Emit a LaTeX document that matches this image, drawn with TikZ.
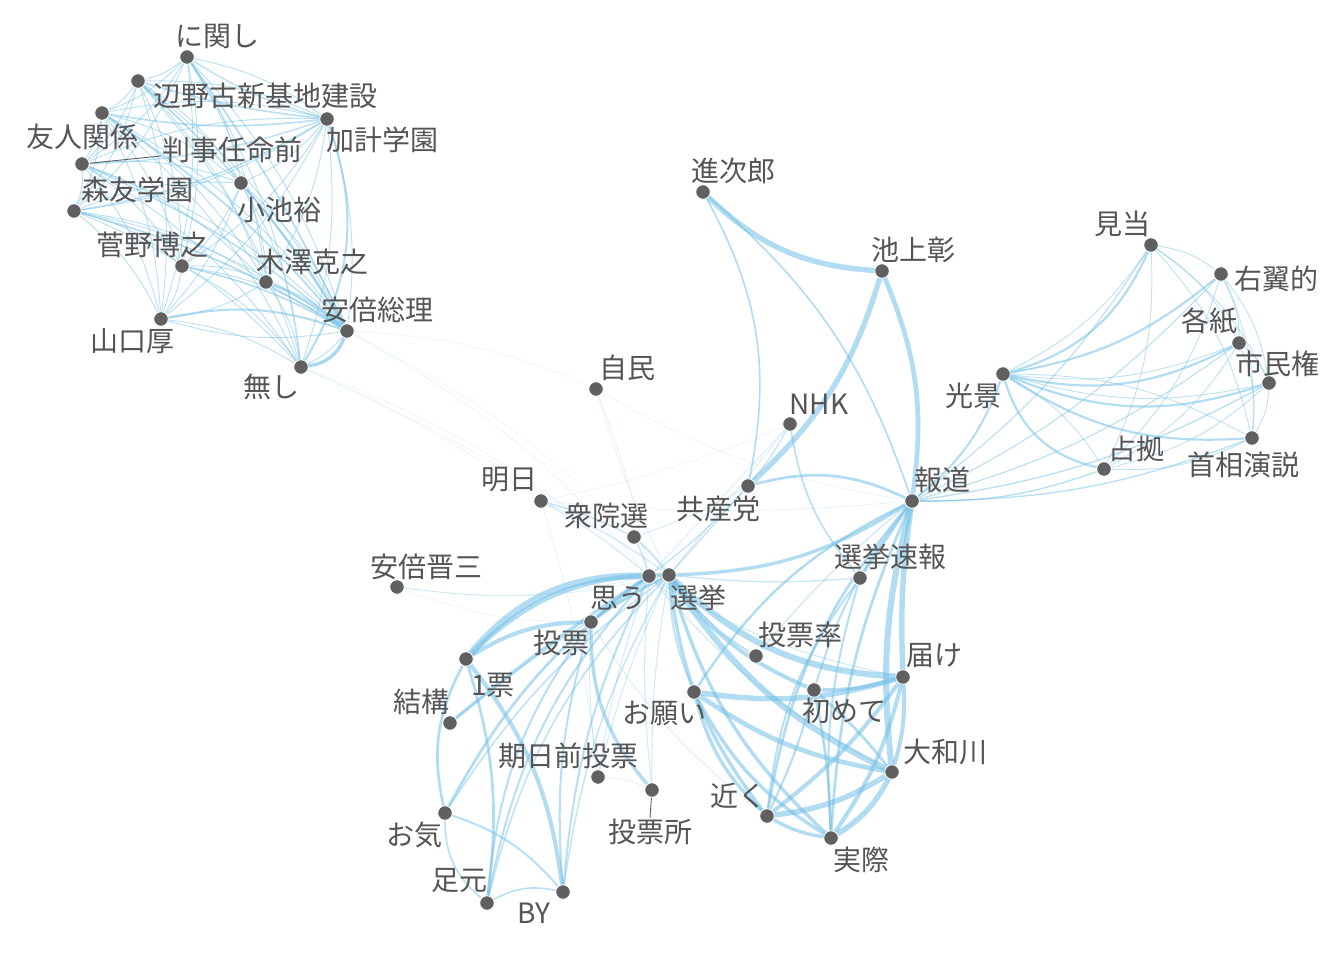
\documentclass[tikz,border=0pt]{standalone}
\usepackage{fontspec}
\setmainfont{Noto Sans CJK JP}
\usetikzlibrary{backgrounds}
\definecolor{edgec}{RGB}{115,192,230}
\definecolor{dotc}{RGB}{96,96,96}
\definecolor{txtc}{RGB}{85,85,85}
\begin{document}
\begin{tikzpicture}[x=1pt,y=-1pt,
  dot/.style={circle,fill=dotc,inner sep=0pt,minimum size=14.5pt,draw=white,line width=0.8pt},
  lbl/.style={text=txtc,font=\fontsize{28}{30}\selectfont,inner sep=1pt},
  edge/.style={draw=edgec,line cap=round},
  leader/.style={draw=dotc,line width=0.9pt}]
\useasboundingbox (0,0) rectangle (1344,960);
% dots
\foreach \id/\x/\y in {ka/187/57,he/138/81,yu/102/113,ha/82/164,kk/327/119,mo/74/211,ko/241/183,su/182/266,ki/266/282,ab/347/331,ya/161/319,na/301/367,
 sj/703/192,ik/882/271,jm/596/389,nhk/790/424,asu/541/501,kyo/748/486,hd/912/501,shu/634/537,abs/397/587,om/649/576,sen/669/575,sok/860/578,tv/591/622,tr/756/656,ip/466/659,tod/903/677,one/694/692,haj/814/690,kek/450/723,ymt/892/772,kij/598/777,tjo/652/790,chi/767/816,jis/831/838,oki/445/813,ash/487/903,by/563/892,
 ken/1151/245,uy/1221/274,ks/1239/343,sm/1269/383,kok/1003/374,sh/1252/438,sk/1104/469}
 \node[dot] (\id) at (\x,\y) {};
% labels
\foreach \id/\x/\y/\t in {ka/217/36/に関し,he/265/96/辺野古新基地建設,yu/82/137/友人関係,ha/232/150/判事任命前,kk/382/140/加計学園,mo/137/190/森友学園,ko/279/210/小池裕,su/152/245/菅野博之,ki/312/262/木澤克之,ab/377/310/安倍総理,ya/132/341/山口厚,na/271/387/無し,
 sj/733/171/進次郎,ik/913/250/池上彰,jm/627/368/自民,nhk/819/404/NHK,asu/509/480/明日,kyo/718/509/共産党,hd/942/480/報道,shu/606/516/衆院選,abs/426/567/安倍晋三,om/618/598/思う,sen/698/598/選挙,sok/890/557/選挙速報,tv/561/643/投票,tr/800/635/投票率,ip/493/685/1票,tod/934/656/届け,one/664/713/お願い,haj/844/711/初めて,kek/421/702/結構,ymt/945/752/大和川,kij/568/756/期日前投票,tjo/650/832/投票所,chi/738/796/近く,jis/861/860/実際,oki/414/835/お気,ash/459/881/足元,by/534/913/BY,
 ken/1122/224/見当,uy/1276/279/右翼的,ks/1209/321/各紙,sm/1277/364/市民権,kok/973/396/光景,sh/1243/465/首相演説,sk/1136/449/占拠}
 \node[lbl] (\id-l) at (\x,\y) {\t};
\draw[leader] (ha) -- ([yshift=-6pt]ha-l.west);
\draw[leader] (tjo) -- (tjo-l.north);
\begin{pgfonlayer}{background}
\fill[white] (0,0) rectangle (1344,960);
% top-left cluster: complete graph
\foreach \a [count=\i] in {ka,he,yu,ha,kk,mo,ko,su,ki,ab,ya,na}{
  \foreach \b [count=\j] in {ka,he,yu,ha,kk,mo,ko,su,ki,ab,ya,na}{
    \ifnum\j>\i \draw[edge,line width=0.9pt,draw opacity=0.5] (\a) to[bend left=12] (\b);\fi
  }
}
% right cluster: complete graph
\foreach \a [count=\i] in {ken,uy,ks,sm,kok,sh,sk}{
  \foreach \b [count=\j] in {ken,uy,ks,sm,kok,sh,sk}{
    \ifnum\j>\i \draw[edge,line width=0.9pt,draw opacity=0.45] (\a) to[bend left=14] (\b);\fi
  }
}
% weighted edges
\foreach \a/\b/\w/\o/\bb in {
 na/ab/2.5/0.55/-30, kk/na/1.5/0.5/25, ya/ab/1.5/0.5/15, mo/ab/1.2/0.5/8, yu/ab/1.2/0.5/8, he/ab/1.2/0.5/8,
 ka/ab/1.2/0.5/5, su/ab/1.2/0.5/8, ki/ab/1.5/0.5/8, ko/ab/1.2/0.5/5, ha/ab/1/0.5/8,
 he/kk/1.2/0.45/-5, yu/kk/1.2/0.45/-8, ha/kk/1/0.45/-8, ka/kk/1/0.45/-8, mo/kk/1/0.45/-10,
 kok/ken/1.6/0.5/-25, kok/ks/1.6/0.5/-20, kok/sm/1.6/0.5/-20, kok/sh/1.6/0.5/-18, kok/sk/1.6/0.5/-30, kok/uy/1.2/0.45/-15,
 hd/kok/1.5/0.5/-15, hd/sk/1/0.45/-10, hd/sh/1/0.45/-10, hd/sm/1/0.45/-10, hd/ks/0.8/0.45/-10, hd/uy/0.8/0.45/-10, hd/ken/0.8/0.45/-10,
 sj/ik/4/0.5/-20, sj/hd/1.2/0.5/15, sj/kyo/1.2/0.5/20, ik/kyo/4/0.5/15, ik/hd/3.5/0.5/15,
 nhk/kyo/1/0.35/5, nhk/sok/1.2/0.45/-15, nhk/sen/0.6/0.25/0, nhk/om/0.6/0.25/0, nhk/asu/0.5/0.15/5,
 kyo/hd/2/0.5/20, kyo/sen/1/0.4/0, kyo/om/1/0.4/5, kyo/shu/0.6/0.3/5,
 sen/hd/2.5/0.5/-15, sen/sok/1/0.35/-5, sen/tod/4.5/0.5/-20, sen/ymt/4.5/0.5/-15, sen/haj/3/0.5/-15,
 sen/chi/2.5/0.5/-15, sen/jis/2.5/0.5/-15, sen/tr/1/0.35/-10, sen/one/1.5/0.4/-10,
 one/tod/4/0.5/-12, one/ymt/3.5/0.5/-12, one/chi/2.5/0.5/-15, one/jis/2.5/0.5/-15, one/hd/1.8/0.5/15,
 haj/tod/2.5/0.5/-8, haj/ymt/2/0.5/5, haj/jis/2/0.5/5, haj/chi/1.5/0.5/5, haj/hd/1.5/0.45/10,
 chi/tod/3/0.5/-8, chi/ymt/4/0.5/-12, chi/jis/2.5/0.5/-10, chi/hd/2/0.5/15, chi/sok/1.5/0.45/15,
 jis/ymt/4/0.5/-15, jis/tod/3/0.5/-10, jis/hd/2/0.5/10, jis/sok/1.5/0.45/10,
 ymt/hd/4.5/0.5/10, tod/hd/4/0.5/5, ymt/tod/3/0.5/-10, sok/hd/2/0.5/0, tr/hd/1/0.3/5, tr/om/0.8/0.3/5,
 ip/om/5/0.5/25, ip/sen/3.5/0.5/22, ip/tv/3/0.5/15, kek/om/2.5/0.5/3, kek/sen/1/0.35/5,
 oki/om/2/0.5/12, oki/ip/2/0.5/20, oki/sen/1.2/0.4/10, ash/ip/2/0.5/-12, by/ip/3/0.5/-15,
 ash/tv/1.5/0.45/15, ash/om/1.5/0.45/15, ash/sen/1.2/0.4/15, by/tv/1.5/0.45/10, by/om/1.5/0.45/10, by/sen/1/0.4/10,
 tv/tjo/2.5/0.5/-20, oki/by/1.5/0.45/15, oki/ash/1.2/0.45/-25, ash/by/1.2/0.45/20,
 tv/om/2/0.5/5, tv/sen/2/0.5/5, kij/om/0.7/0.3/5, kij/sen/0.7/0.3/5, kij/tv/0.7/0.3/5, kij/tjo/0.5/0.2/10,
 tjo/sen/0.8/0.3/5, tjo/om/0.8/0.3/5, om/sen/1/0.4/0, shu/sen/1.2/0.4/5, shu/om/1/0.4/5,
 asu/shu/1/0.4/5, asu/om/0.7/0.3/5, asu/sen/0.7/0.3/5, asu/kij/0.5/0.2/5, asu/hd/0.5/0.2/-5,
 jm/om/0.5/0.2/5, jm/sen/0.5/0.2/-5, jm/hd/0.5/0.15/-10,
 abs/sen/0.6/0.2/-10, abs/om/0.6/0.2/-10, abs/tv/0.5/0.15/-10,
 ab/om/0.5/0.15/10, ab/sen/0.5/0.12/10, na/om/0.5/0.12/10, na/asu/0.5/0.12/5, ab/jm/0.5/0.12/10, na/sen/0.5/0.12/5,
 tv/chi/0.6/0.25/-10, om/ymt/0.8/0.3/-10, om/tod/0.8/0.3/-10}
 \draw[edge,line width=1.35*\w pt,draw opacity=\o*1.1] (\a) to[bend left=\bb] (\b);
\end{pgfonlayer}
\end{tikzpicture}
\end{document}
